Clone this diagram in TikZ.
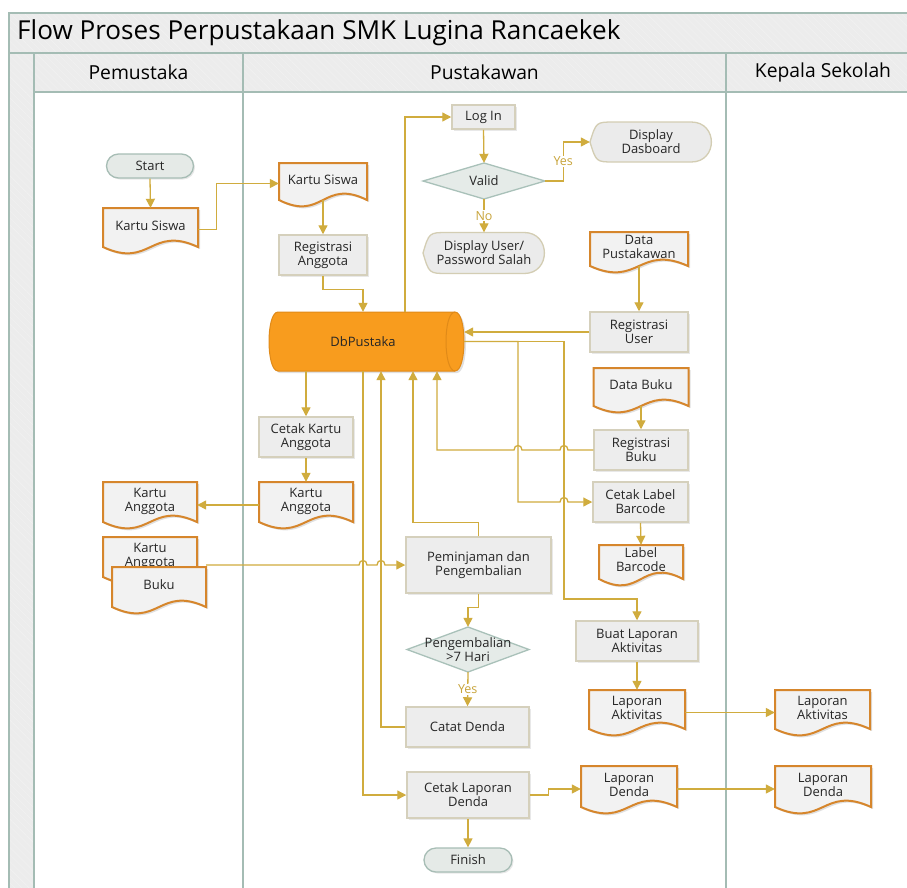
\documentclass[tikz,border=0pt]{standalone}
\usepackage{fontspec}
\setmainfont{Open Sans}
\usetikzlibrary{arrows.meta,calc,shadows,patterns.meta}

\definecolor{frm}{HTML}{A4BCB4}
\definecolor{hdr}{HTML}{ECECEC}
\definecolor{cnn}{HTML}{D0AC3E}
\definecolor{docb}{HTML}{D6862C}
\definecolor{docf}{HTML}{F2F2F2}
\definecolor{procb}{HTML}{D5D0BC}
\definecolor{procf}{HTML}{EDEDED}
\definecolor{termf}{HTML}{E5EAE7}
\definecolor{termb}{HTML}{A7BDB5}
\definecolor{diaf}{HTML}{E5EBE8}
\definecolor{diab}{HTML}{A9C1B9}
\definecolor{dispb}{HTML}{D3CDB3}
\definecolor{dispf}{HTML}{EBEBEB}
\definecolor{dbf}{HTML}{F89C1E}
\definecolor{dbb}{HTML}{E08A18}
\definecolor{txtc}{HTML}{262626}
\definecolor{lblc}{HTML}{C8A43A}

\tikzset{
  txt/.style={inner sep=0pt, align=center, text=txtc},
  proc/.style={rectangle, draw=procb, fill=procf, line width=1.5pt, inner sep=0pt,
    align=center, text=txtc,
    drop shadow={opacity=0.18, shadow xshift=1.5pt, shadow yshift=-1.5pt}},
  term/.style={rectangle, rounded corners=12pt, draw=termb, fill=termf, line width=1.3pt,
    inner sep=0pt, align=center, text=txtc,
    drop shadow={opacity=0.18, shadow xshift=1.5pt, shadow yshift=-1.5pt}},
  docline/.style={draw=docb, fill=docf, line width=2pt},
  diastyle/.style={draw=diab, fill=diaf, line width=1.3pt},
  dispstyle/.style={draw=dispb, fill=dispf, line width=1.3pt},
  conn/.style={draw=cnn, line width=1.3pt, -{Triangle[length=9pt,width=9pt]}},
  lbl/.style={fill=white, text=lblc, inner sep=1pt, font=\fontsize{12.5}{14}\selectfont},
  frame/.style={draw=frm, line width=1.3pt},
}

\newcommand\docnode[6]{%
  \fill[black,opacity=.12] ({#2-#4/2+2},{#3+2}) -- ({#2+#4/2+2},{#3+2}) -- ({#2+#4/2+2},{#3+#5+2})
     .. controls ({#2+2},{#3+#5-22+2}) and ({#2+2},{#3+#5+22+2}) .. ({#2-#4/2+2},{#3+#5+2}) -- cycle;
  \draw[docline] ({#2-#4/2},#3) -- ({#2+#4/2},#3) -- ({#2+#4/2},{#3+#5})
     .. controls (#2,{#3+#5-22}) and (#2,{#3+#5+22}) .. ({#2-#4/2},{#3+#5}) -- cycle;
  \node[txt, minimum width=#4pt, minimum height=#5pt] (#1) at (#2,{#3+#5/2}) {\raisebox{1.5pt}{\begin{tabular}{@{}c@{}}#6\end{tabular}}};
}
\newcommand\dianode[6]{%
  \draw[diastyle] ({#2-#4/2},#3) -- (#2,{#3-#5/2}) -- ({#2+#4/2},#3) -- (#2,{#3+#5/2}) -- cycle;
  \node[txt, minimum width=#4pt, minimum height=#5pt] (#1) at (#2,#3) {#6};
}
\newcommand\dispnode[6]{%
  \draw[dispstyle] ({#2-#4/2},#3) .. controls ({#2-#4/2+0.05*#4},{#3-#5/2}) .. ({#2-#4/2+0.2*#4},{#3-#5/2})
     -- ({#2+#4/2-0.17*#4},{#3-#5/2})
     .. controls ({#2+#4/2+0.05*#4},{#3-#5/2}) and ({#2+#4/2+0.05*#4},{#3+#5/2}) .. ({#2+#4/2-0.17*#4},{#3+#5/2})
     -- ({#2-#4/2+0.2*#4},{#3+#5/2})
     .. controls ({#2-#4/2+0.05*#4},{#3+#5/2}) .. ({#2-#4/2},#3) -- cycle;
  \node[txt, minimum width=#4pt, minimum height=#5pt] (#1) at (#2,#3) {#6};
}

\begin{document}
\begin{tikzpicture}[x=1pt,y=-1pt, font=\fontsize{13}{14}\selectfont]
\useasboundingbox (0,0) rectangle (907,887);
\clip (0,0) rectangle (907,887);
\fill[white] (0,0) rectangle (907,887);

% ---------- frame ----------
\fill[hdr] (9,13) rectangle (940,92);
\fill[hdr] (9,92) rectangle (34,900);
\fill[pattern={Lines[angle=-45,distance=5pt,line width=0.4pt]}, pattern color=black!5] (9,13) rectangle (940,92);
\fill[pattern={Lines[angle=-45,distance=5pt,line width=0.4pt]}, pattern color=black!5] (9,92) rectangle (34,900);
\draw[frame] (9,900) -- (9,13) -- (940,13);
\draw[frame] (9,53) -- (940,53);
\draw[frame] (34,92) -- (940,92);
\draw[frame] (34,53) -- (34,900);
\draw[frame] (243,53) -- (243,900);
\draw[frame] (726,53) -- (726,900);

\node[anchor=west, inner sep=0pt, text=black, font=\fontsize{26.1}{30}\selectfont] (title) at (17,33) {Flow Proses Perpustakaan SMK Lugina Rancaekek};
\node[text=black, font=\fontsize{19.3}{22}\selectfont] (lane1) at (138.5,72.5) {Pemustaka};
\node[text=black, font=\fontsize{19.3}{22}\selectfont] (lane2) at (484.5,72.5) {Pustakawan};
\node[text=black, font=\fontsize{19.3}{22}\selectfont] (lane3) at (823,72.5) {Kepala Sekolah};

% ---------- shapes ----------
\node[term, minimum width=87pt, minimum height=24pt] (start) at (150,166) {Start};
\docnode{ks1}{150.5}{208}{95}{39}{Kartu Siswa}
\docnode{ks2}{323}{163}{88}{37}{Kartu Siswa}
\node[proc, minimum width=88pt, minimum height=40pt] (reganggota) at (323,255) {Registrasi\\Anggota};

% DbPustaka cylinder
\fill[black,opacity=.12] (280,314) -- (457,314) .. controls (469,314) and (469,373) .. (457,373) -- (280,373) .. controls (268,373) and (268,314) .. (280,314) -- cycle;
\filldraw[fill=dbf, draw=dbb, line width=1pt] (278,312) -- (455,312) .. controls (467,312) and (467,371) .. (455,371) -- (278,371) .. controls (266,371) and (266,312) .. (278,312) -- cycle;
\draw[dbb, line width=1pt] (455,312) .. controls (443,312) and (443,371) .. (455,371);
\node[txt, minimum width=195pt, minimum height=59pt] (db) at (366.5,341.5) {\hspace*{-7pt}DbPustaka};

\node[proc, minimum width=63pt, minimum height=24pt] (login) at (483.5,117) {Log In};
\dianode{valid}{484}{181}{122}{36}{Valid}
\dispnode{dasboard}{651}{142}{122}{40}{Display\\Dasboard}
\dispnode{dispuser}{484}{253}{122}{41}{Display User/\\Password Salah}
\docnode{datapust}{639}{232}{98}{34}{Data\\Pustakawan}
\node[proc, minimum width=98pt, minimum height=40pt] (reguser) at (639,332) {Registrasi\\User};
\docnode{databuku}{641}{368}{95}{38}{Data Buku}
\node[proc, minimum width=94pt, minimum height=40pt] (regbuku) at (641,450) {Registrasi\\Buku};
\node[proc, minimum width=95pt, minimum height=40pt] (cetaklabel) at (640.5,502) {Cetak Label\\Barcode};
\docnode{labelbarcode}{641}{545}{84}{34}{Label\\Barcode}
\node[proc, minimum width=122pt, minimum height=40pt] (buatlap) at (637,641) {Buat Laporan\\Aktivitas};
\docnode{lapakt1}{637}{690}{96}{39}{Laporan\\Aktivitas}
\docnode{lapakt2}{822.5}{690}{95}{39}{Laporan\\Aktivitas}

\node[proc, minimum width=94pt, minimum height=40pt] (cetakkartu) at (306,437) {Cetak Kartu\\Anggota};
\docnode{ka2}{306}{482}{94}{40}{Kartu\\Anggota}
\docnode{ka1}{150}{482}{94}{40}{Kartu\\Anggota}
\docnode{ka3}{150}{537}{94}{40}{Kartu\\Anggota}
\docnode{buku}{159}{567}{94}{40}{Buku}

\node[proc, minimum width=145pt, minimum height=56pt] (pinjam) at (478.5,565) {Peminjaman dan\\Pengembalian};
\dianode{kembali}{468}{649.5}{122}{45}{Pengembalian\\>7 Hari}
\node[proc, minimum width=123pt, minimum height=40pt] (catat) at (467.5,727) {Catat Denda};
\node[proc, minimum width=122pt, minimum height=46pt] (cetaklap) at (468,795) {Cetak Laporan\\Denda};
\docnode{lapdenda1}{629}{766}{96}{41}{Laporan\\Denda}
\docnode{lapdenda2}{823}{766}{96}{41}{Laporan\\Denda}
\node[term, minimum width=88pt, minimum height=24pt] (finish) at (468,860) {Finish};

% ---------- connectors ----------
\draw[conn] (start.south) -- (ks1.north);
\draw[conn] ($(ks1.east)+(0,2)$) -- ++(18,0) |- ($(ks2.west)+(0,2)$);
\draw[conn] (ks2.south) -- (reganggota.north);
\draw[conn] (reganggota.south) -- ++(0,14) -| ([xshift=-3.5pt]db.north);
\draw[conn] ([xshift=38.5pt]db.north) |- (login.west);
\draw[conn] (login.south) -- (valid.north);
\draw[conn] (valid.east) -- ++(18,0) |- node[lbl,pos=0.25]{Yes} (dasboard.west);
\draw[conn] (valid.south) -- node[lbl]{No} (dispuser.north);
\draw[conn] (datapust.south) -- (reguser.north);
\draw[conn] (reguser.west) -- (reguser.west -| db.east);
\draw[conn] (db.east) -- (518,341.5) -- (518,502) -- (560,502) .. controls +(0,-6) and +(0,-6) .. (568,502) -- (cetaklabel.west);
\draw[conn] (db.east) -- (564,341.5) -- (564,599) -| (buatlap.north);
\draw[conn] (databuku.south) -- (regbuku.north);
\draw[conn] (regbuku.west) -- (568,450) .. controls +(0,-6) and +(0,-6) .. (560,450) -- (522,450) .. controls +(0,-6) and +(0,-6) .. (514,450) -- (437,450) -- ([xshift=70.5pt]db.south);
\draw[conn] (cetaklabel.south) -- (labelbarcode.north);
\draw[conn] (buatlap.south) -- (lapakt1.north);
\draw[conn] ($(lapakt1.east)+(0,3)$) -- ($(lapakt2.west)+(0,3)$);
\draw[conn] (cetakkartu.north |- db.south) -- (cetakkartu.north);
\draw[conn] (cetakkartu.south) -- (ka2.north);
\draw[conn] ($(ka2.west)+(0,3)$) -- ($(ka1.east)+(0,3)$);
\draw[conn] (pinjam.west -| buku.east) -- (359,565) .. controls +(0,-6) and +(0,-6) .. (367,565) -- (377,565) .. controls +(0,-6) and +(0,-6) .. (385,565) -- (pinjam.west);
\draw[conn] ([xshift=-3.5pt]db.south) |- (cetaklap.west);
\draw[conn] (catat.west) -| ([xshift=14.5pt]db.south);
\draw[conn] (pinjam.north) -- ++(0,-14) -| ([xshift=46.5pt]db.south);
\draw[conn] (pinjam.south) -- ++(0,14) -| (kembali.north);
\draw[conn] (kembali.south) -- node[lbl]{Yes} (catat.north);
\draw[conn] (cetaklap.east) -- ++(19,0) -- ++(0,-6) -- ($(lapdenda1.west)+(0,2.5)$);
\draw[conn] ($(lapdenda1.east)+(0,2.5)$) -- ($(lapdenda2.west)+(0,2.5)$);
\draw[conn] (cetaklap.south) -- (finish.north);
\end{tikzpicture}
\end{document}
